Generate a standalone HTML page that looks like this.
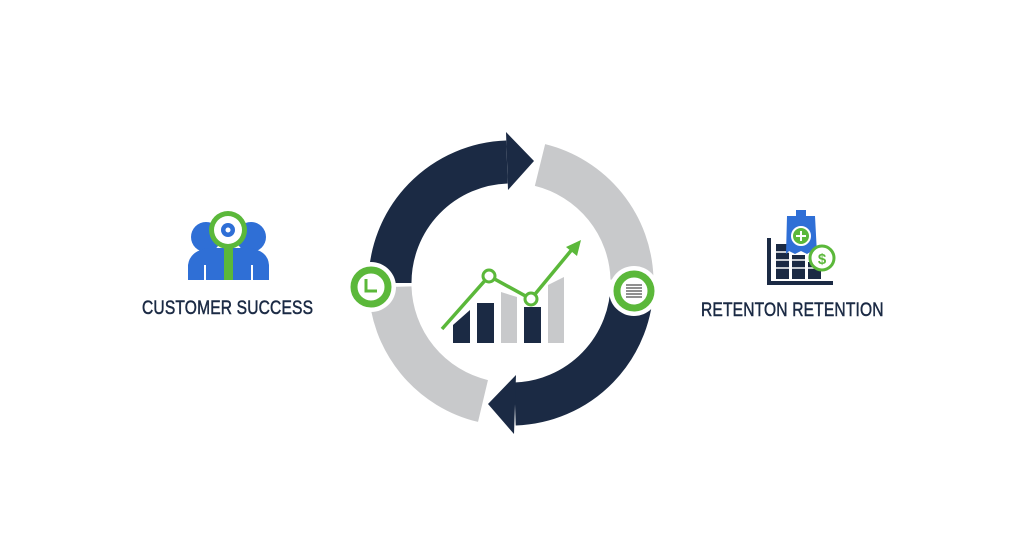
<!DOCTYPE html>
<html><head><meta charset="utf-8"><style>
html,body{margin:0;padding:0;background:#fff;}
body{width:1024px;height:559px;position:relative;overflow:hidden;font-family:"Liberation Sans",sans-serif;}
.t{position:absolute;color:#1b2a44;font-size:19px;transform:scaleX(0.82);white-space:nowrap;letter-spacing:0.2px;-webkit-text-stroke:0.5px #1b2a44}
</style></head><body>
<svg width="1024" height="559" style="position:absolute;left:0;top:0">
<g fill="none" stroke-width="43">
<path d="M390,283 A121,121 0 0 1 507,162" stroke="#1b2a44"/>
<path d="M540,165 A121,121 0 0 1 632,279" stroke="#c8c9cb"/>
<path d="M632,283 A121,121 0 0 1 515,404" stroke="#1b2a44"/>
<path d="M483,401 A121,121 0 0 1 390,287" stroke="#c8c9cb"/>
</g>
<polygon points="506,132 534,161 508,190" fill="#1b2a44"/>
<polygon points="516,375 488,404 514,434" fill="#1b2a44"/>
<circle cx="371" cy="287" r="25" fill="#fff"/>
<circle cx="371" cy="287" r="17" fill="#fff" stroke="#5bb83a" stroke-width="7"/>
<path d="M366,279 L366,291 L377,291" fill="none" stroke="#5bb83a" stroke-width="3"/>
<circle cx="634" cy="291" r="25" fill="#fff"/>
<circle cx="634" cy="291" r="17" fill="#fff" stroke="#5bb83a" stroke-width="7"/>
<g stroke="#555" stroke-width="1.3"><line x1="626" y1="285" x2="642" y2="285"/><line x1="626" y1="288" x2="642" y2="288"/><line x1="626" y1="291" x2="642" y2="291"/><line x1="626" y1="294" x2="642" y2="294"/><line x1="626" y1="297" x2="642" y2="297"/></g>
<polygon points="453,343 453,325 470,310 470,343" fill="#1b2a44"/>
<rect x="477" y="303" width="17" height="40" fill="#1b2a44"/>
<polygon points="501,343 501,292 517,297 517,343" fill="#c8c9cb"/>
<rect x="524" y="307" width="17" height="36" fill="#1b2a44"/>
<polygon points="548,343 548,285 564,277 564,343" fill="#c8c9cb"/>
<polyline points="442,329 489,276 531,299 574,247" fill="none" stroke="#5bb83a" stroke-width="3.5"/>
<polygon points="581,240 566,247 577,256" fill="#5bb83a"/>
<circle cx="489" cy="276" r="6" fill="#fff" stroke="#5bb83a" stroke-width="3"/>
<circle cx="531" cy="299" r="6" fill="#fff" stroke="#5bb83a" stroke-width="3"/>
<circle cx="206" cy="237" r="15" fill="#2f6fd6"/>
<circle cx="251" cy="237" r="15" fill="#2f6fd6"/>
<path d="M188,280 L188,265 Q190,250 210,248 L248,248 Q268,250 269,265 L269,280 Z" fill="#2f6fd6"/>
<line x1="205" y1="265" x2="205" y2="280" stroke="#fff" stroke-width="2"/>
<line x1="252" y1="265" x2="252" y2="280" stroke="#fff" stroke-width="2"/>
<rect x="224" y="248" width="9" height="32" fill="#5bb83a"/>
<circle cx="228" cy="230" r="19" fill="#5bb83a"/>
<circle cx="228" cy="230" r="14" fill="#fff"/>
<circle cx="228" cy="230" r="7" fill="#2f6fd6"/>
<circle cx="228" cy="230" r="2.5" fill="#fff"/>
<path d="M769,238 L769,283 L833,283" fill="none" stroke="#1b2a44" stroke-width="4"/>
<g fill="#1b2a44"><rect x="776" y="244" width="13" height="35"/><rect x="792" y="255" width="13" height="24"/><rect x="808" y="262" width="13" height="17"/></g>
<g stroke="#fff" stroke-width="1.5"><line x1="776" y1="252" x2="821" y2="252"/><line x1="776" y1="260" x2="821" y2="260"/><line x1="776" y1="268" x2="821" y2="268"/></g>
<rect x="796" y="210" width="10" height="6" fill="#2f6fd6"/>
<path d="M787,216 L815,216 L817,254 L812,251 L807,254 L801,251 L795,254 L789,251 L786,254 Z" fill="#2f6fd6"/>
<circle cx="801" cy="236" r="9" fill="#5bb83a" stroke="#fff" stroke-width="2"/>
<path d="M801,231 V241 M796,236 H806" stroke="#fff" stroke-width="2"/>
<circle cx="822" cy="258" r="12" fill="#fff" stroke="#5bb83a" stroke-width="3"/>
<text x="822" y="264" font-size="15" font-weight="bold" text-anchor="middle" fill="#5bb83a" font-family="Liberation Sans">$</text>
</svg>
<div class="t" style="left:142px;top:298px;transform-origin:0 0">CUSTOMER SUCCESS</div>
<div class="t" style="left:701px;top:300px;transform-origin:0 0">RETENTON RETENTION</div>
</body></html>
